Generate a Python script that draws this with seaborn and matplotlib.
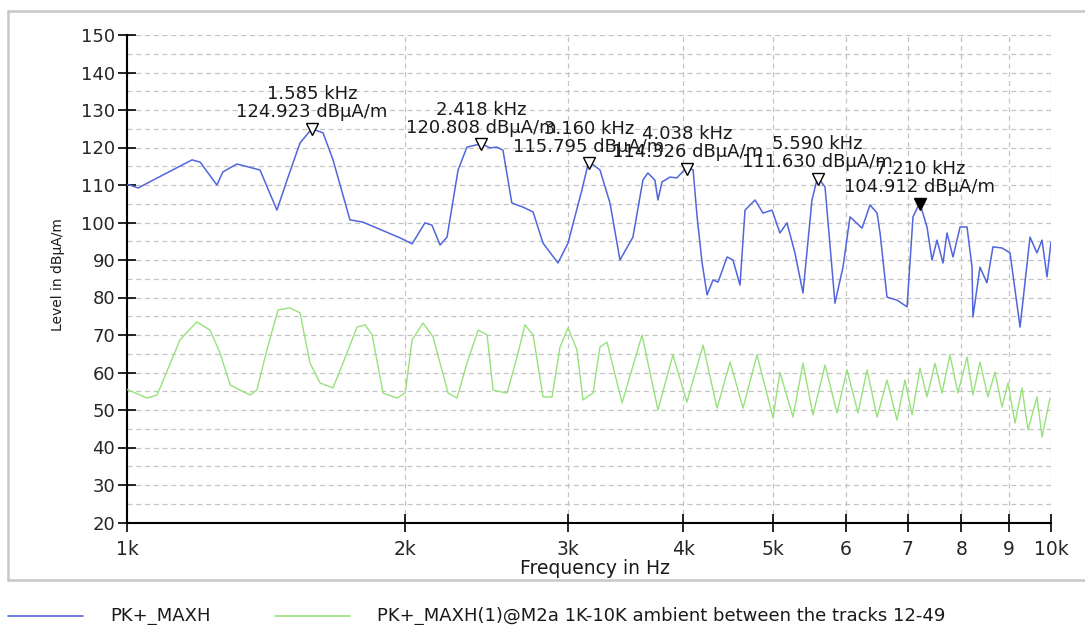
import matplotlib
matplotlib.use("Agg")
import matplotlib.pyplot as plt
from matplotlib.lines import Line2D
from matplotlib.ticker import FixedLocator, FixedFormatter, MultipleLocator, NullLocator
import seaborn as sns
import pandas as pd

# ---------------- data ----------------
blue_freq = [1000, 1007, 1028, 1067, 1176, 1200, 1251, 1270, 1315, 1393, 1453, 1490, 1539, 1585,
             1630, 1671, 1743, 1800, 1975, 2035, 2101, 2138, 2182, 2220, 2282, 2333, 2418, 2471,
             2514, 2552, 2609, 2683, 2751, 2820, 2927, 3001, 3107, 3160, 3250, 3332, 3416, 3528,
             3617, 3662, 3727, 3755, 3793, 3869, 3937, 4038, 4099, 4140, 4192, 4244, 4308, 4362,
             4461, 4527, 4607, 4665, 4783, 4879, 4990, 5089, 5179, 5283, 5390, 5512, 5590, 5694,
             5837, 5955, 6060, 6245, 6370, 6483, 6531, 6645, 6813, 6986, 7090, 7210, 7342, 7434,
             7527, 7641, 7717, 7833, 7972, 8112, 8213, 8232, 8378, 8524, 8653, 8851, 9029, 9258,
             9327, 9490, 9656, 9779, 9901, 10000]
blue_level = [110.0, 110.0, 109.2, 111.3, 116.7, 116.1, 110.0, 113.5, 115.6, 114.0, 103.3, 111.3,
              121.2, 125.0, 123.9, 116.7, 100.7, 100.1, 95.9, 94.3, 99.9, 99.3, 94.0, 96.1, 114.0,
              120.1, 121.0, 119.9, 120.1, 119.3, 105.2, 104.1, 102.8, 94.5, 89.2, 94.5, 108.7,
              116.3, 114.0, 105.2, 90.0, 96.1, 111.3, 113.2, 111.3, 106.0, 110.8, 112.1, 111.9,
              114.8, 114.0, 101.5, 89.2, 80.7, 84.7, 84.1, 90.8, 90.0, 83.3, 103.3, 106.0, 102.5,
              103.3, 97.2, 99.9, 91.9, 81.2, 106.0, 112.1, 109.5, 78.5, 88.1, 101.5, 98.5, 104.7,
              102.5, 97.2, 80.1, 79.3, 77.5, 101.5, 105.3, 98.8, 90.0, 95.3, 89.2, 97.2, 90.8,
              98.8, 98.8, 88.1, 74.8, 88.1, 83.9, 93.5, 93.2, 91.9, 72.1, 79.3, 96.1, 91.9, 95.3,
              85.5, 94.8]

green_freq = [1000, 1051, 1078, 1141, 1190, 1230, 1261, 1293, 1325, 1359, 1382, 1417, 1457, 1501,
              1539, 1578, 1618, 1671, 1713, 1774, 1810, 1842, 1893, 1960, 2000, 2035, 2091, 2144,
              2226, 2276, 2333, 2399, 2453, 2490, 2578, 2643, 2696, 2751, 2820, 2884, 2942, 3001,
              3069, 3115, 3194, 3250, 3307, 3434, 3609, 3755, 3898, 4036, 4202, 4351, 4495, 4642,
              4806, 5002, 5089, 5258, 5390, 5526, 5694, 5867, 6015, 6182, 6323, 6483, 6645, 6813,
              6950, 7073, 7215, 7342, 7490, 7621, 7774, 7931, 8112, 8232, 8378, 8546, 8697, 8851,
              8984, 9142, 9303, 9443, 9656, 9779, 9975]
green_level = [55.5, 53.2, 54.0, 68.7, 73.5, 71.3, 65.2, 56.7, 55.3, 54.0, 55.3, 66.0, 76.7, 77.2,
               75.9, 62.5, 57.2, 55.9, 62.5, 72.1, 72.7, 70.0, 54.5, 53.2, 54.5, 68.7, 73.2, 69.5,
               54.5, 53.2, 62.5, 71.3, 70.0, 55.3, 54.5, 64.1, 72.7, 70.0, 53.5, 53.5, 66.8, 71.9,
               66.0, 52.7, 54.5, 66.8, 68.1, 51.9, 70.0, 50.0, 64.7, 52.1, 67.3, 50.5, 62.8, 50.5,
               64.7, 47.9, 60.1, 48.1, 62.5, 48.7, 62.0, 49.2, 60.7, 49.2, 60.7, 48.1, 58.0, 47.3,
               58.0, 48.7, 61.2, 53.5, 62.5, 54.5, 64.7, 54.5, 64.1, 54.0, 62.8, 53.5, 60.1, 50.8,
               57.2, 46.5, 55.9, 44.7, 53.5, 42.8, 53.2]

marker_freq = [1585, 2418, 3160, 4038, 5590, 7210]
marker_level = [124.923, 120.808, 115.795, 114.326, 111.630, 104.912]

x_ticks = [1000, 2000, 3000, 4000, 5000, 6000, 7000, 8000, 9000, 10000]
x_tick_labels = ["1k", "2k", "3k", "4k", "5k", "6", "7", "8", "9", "10k"]

series_names = ["PK+_MAXH", "PK+_MAXH(1)@M2a 1K-10K ambient between the tracks 12-49"]

# ---------------- style ----------------
sns.set_theme(style="white")
plt.rcParams["font.family"] = ["DejaVu Sans"]

BLUE = "#5165dc"
GREEN = "#97e27c"
GRID = "#c4c4c4"

W, H = 1085, 625
fig = plt.figure(figsize=(W / 100, H / 100), dpi=100)
fig.patch.set_facecolor("white")

left, right, top, bottom = 127, 1051, 35, 522.5
ax = fig.add_axes([left / W, 1 - bottom / H, (right - left) / W, (bottom - top) / H])
ax.set_facecolor("white")

df_blue = pd.DataFrame({"freq": blue_freq, "level": blue_level})
df_green = pd.DataFrame({"freq": green_freq, "level": green_level})

sns.lineplot(data=df_green, x="freq", y="level", ax=ax, color=GREEN, linewidth=1.0,
             estimator=None, sort=False, zorder=3)
sns.lineplot(data=df_blue, x="freq", y="level", ax=ax, color=BLUE, linewidth=1.1,
             estimator=None, sort=False, zorder=4)

ax.set_xscale("log")
ax.set_xlim(1000, 10000)
ax.set_ylim(20, 150)

ax.xaxis.set_major_locator(FixedLocator(x_ticks))
ax.xaxis.set_major_formatter(FixedFormatter(x_tick_labels))
ax.xaxis.set_minor_locator(NullLocator())
ax.yaxis.set_major_locator(MultipleLocator(10))
ax.yaxis.set_minor_locator(MultipleLocator(5))

ax.tick_params(axis="both", which="both", direction="inout", color="black", width=1.2)
ax.tick_params(axis="y", which="major", length=13, labelsize=13, pad=2)
ax.tick_params(axis="y", which="minor", length=13)
ax.tick_params(axis="x", which="major", length=13, labelsize=13.5, pad=6)
ax.tick_params(left=True, bottom=True)

ax.grid(True, axis="y", which="both", color=GRID, linestyle=(0, (4, 3)), linewidth=0.9)
ax.grid(True, axis="x", which="major", color=GRID, linestyle=(0, (4, 3)), linewidth=0.9)

for s in ["top", "right"]:
    ax.spines[s].set_visible(False)
for s in ["left", "bottom"]:
    ax.spines[s].set_color("black")
    ax.spines[s].set_linewidth(1.5)

ax.set_xlabel("")
ax.set_ylabel("")

# markers and annotations
for i, (f, v) in enumerate(zip(marker_freq, marker_level)):
    filled = i == len(marker_freq) - 1
    ax.plot([f], [v], marker="v", markersize=8, markeredgewidth=1.0,
            markeredgecolor="black", markerfacecolor="black" if filled else "white",
            linestyle="none", zorder=6)
    ax.annotate(f"{f / 1000:.3f} kHz", xy=(f, v), xytext=(0, 25), textcoords="offset points",
                ha="center", va="center", fontsize=13, color="#1a1a1a", zorder=7)
    ax.annotate(f"{v:.3f} dBµA/m", xy=(f, v), xytext=(0, 12), textcoords="offset points",
                ha="center", va="center", fontsize=13, color="#1a1a1a", zorder=7)

# axis labels
fig.text(58 / W, 1 - 275 / H, "Level in dBµA/m", rotation=90, ha="center", va="center",
         fontsize=10, color="#1a1a1a")
fig.text(595 / W, 1 - 568 / H, "Frequency in Hz", ha="center", va="center",
         fontsize=13.5, color="#1a1a1a")

# outer frame (left, top, bottom edges)
frame_col = "#c8c8c8"
fig.add_artist(Line2D([8 / W, 8 / W], [1 - 11 / H, 1 - 580 / H], transform=fig.transFigure,
                      color=frame_col, linewidth=1.8))
fig.add_artist(Line2D([8 / W, 1.0], [1 - 11 / H, 1 - 11 / H], transform=fig.transFigure,
                      color=frame_col, linewidth=1.8))
fig.add_artist(Line2D([8 / W, 1.0], [1 - 580 / H, 1 - 580 / H], transform=fig.transFigure,
                      color=frame_col, linewidth=1.8))

# legend at bottom
ly = 1 - 616 / H
fig.add_artist(Line2D([8 / W, 83 / W], [ly, ly], transform=fig.transFigure, color=BLUE, linewidth=1.2))
fig.text(110 / W, ly, series_names[0], ha="left", va="center", fontsize=13, color="#1a1a1a")
fig.add_artist(Line2D([275 / W, 350 / W], [ly, ly], transform=fig.transFigure, color=GREEN, linewidth=1.2))
fig.text(377 / W, ly, series_names[1], ha="left", va="center", fontsize=13, color="#1a1a1a")

fig.savefig("out.png", dpi=100, facecolor="white")
